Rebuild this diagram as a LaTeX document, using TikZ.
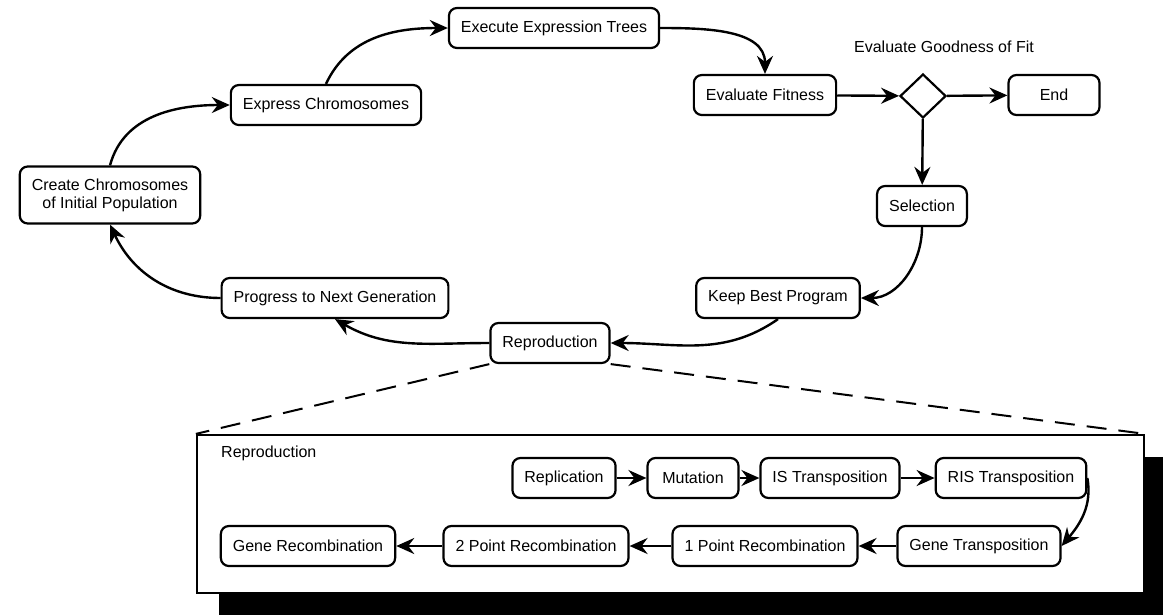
\documentclass[tikz,border=0pt]{standalone}
\usepackage{fontspec}
\setmainfont{Liberation Sans}
\usetikzlibrary{arrows.meta}
\usetikzlibrary{shapes.geometric}
\usetikzlibrary{shadows}
\tikzset{stepBox/.style={draw, line width=2.2pt, rounded corners=8pt, inner xsep=12pt, minimum height=40pt, fill=white, font=\fontsize{16}{18}\selectfont}}
\tikzset{decisionBox/.style={draw, diamond, line width=2.2pt, minimum width=46pt, minimum height=44pt, inner sep=0pt, fill=white}}
\tikzset{subBox/.style={draw, line width=2.2pt, fill=white, minimum width=947pt, minimum height=158pt, drop shadow={shadow xshift=22pt, shadow yshift=-22pt, opacity=1, fill=black}}}
\tikzset{plainText/.style={inner sep=0pt, font=\fontsize{16}{18}\selectfont}}
\tikzset{flowArrow/.style={line width=2.4pt, -{Stealth[length=18pt, width=16pt, inset=6pt]}}}
\tikzset{zoomLine/.style={line width=2pt, dash pattern=on 20pt off 12pt}}

\begin{document}
\begin{tikzpicture}[x=1pt, y=1pt]

\useasboundingbox (0, 0) rectangle (1163, -614);

\node[stepBox] (exec) at (554, -28) {Execute Expression Trees};
\node[stepBox] (express) at (326, -105) {Express Chromosomes};
\node[stepBox, align=center, minimum height=57pt] (create) at (110, -195) {Create Chromosomes\\of Initial Population};
\node[stepBox] (progress) at (335, -298) {Progress to Next Generation};
\node[stepBox] (repro) at (550, -343) {Reproduction};
\node[stepBox] (keep) at (778, -298) {Keep Best Program};
\node[stepBox] (fitness) at (765, -95) {Evaluate Fitness};
\node[decisionBox] (fit) at (923, -96) {};
\node[plainText] (fitLabel) at (944, -47) {Evaluate Goodness of Fit};
\node[stepBox, minimum width=91pt] (end) at (1054, -95) {End};
\node[stepBox] (select) at (922, -206) {Selection};

\draw[flowArrow] (create.north) to[out=75, in=180] (express.west);
\draw[flowArrow] (express.north) to[out=65, in=180] (exec.west);
\draw[flowArrow] (exec.east) to[out=0, in=90] (fitness.north);
\draw[flowArrow] (fitness) -- (fit);
\draw[flowArrow] (fit) -- (end);
\draw[flowArrow] (fit) -- (select);
\draw[flowArrow] (select.south) to[out=-90, in=0] (keep.east);
\draw[flowArrow] (keep.south) to[out=-145, in=0] (repro.east);
\draw[flowArrow] (repro.west) to[out=180, in=-30] (progress.south);
\draw[flowArrow] (progress.west) to[out=180, in=-65] (create.south);

\node[subBox] (sub) at (670.5, -514) {};
\node[plainText, anchor=west] (subTitle) at (221, -453) {Reproduction};

\draw[zoomLine] (repro.south west) -- (sub.north west);
\draw[zoomLine] (repro.south east) -- (sub.north east);

\node[stepBox] (replic) at (564, -478) {Replication};
\node[stepBox, minimum width=91pt] (mutat) at (693, -478) {Mutation};
\node[stepBox] (isTrans) at (830, -478) {IS Transposition};
\node[stepBox] (risTrans) at (1011, -478) {RIS Transposition};
\node[stepBox] (geneTrans) at (979, -546) {Gene Transposition};
\node[stepBox] (onePoint) at (765, -546) {1 Point Recombination};
\node[stepBox] (twoPoint) at (536, -546) {2 Point Recombination};
\node[stepBox] (geneRec) at (308, -546) {Gene Recombination};

\draw[flowArrow] (replic) -- (mutat);
\draw[flowArrow] (mutat) -- (isTrans);
\draw[flowArrow] (isTrans) -- (risTrans);
\draw[flowArrow] (risTrans.east) to[out=-80, in=50] (geneTrans.east);
\draw[flowArrow] (geneTrans) -- (onePoint);
\draw[flowArrow] (onePoint) -- (twoPoint);
\draw[flowArrow] (twoPoint) -- (geneRec);

\end{tikzpicture}
\end{document}
